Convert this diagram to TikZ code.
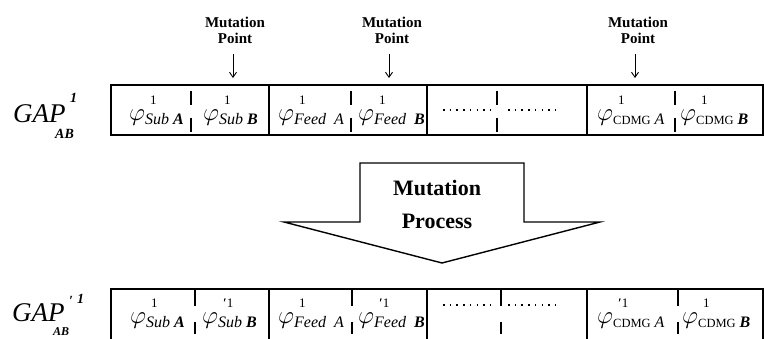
\documentclass[tikz,border=0pt]{standalone}
\usepackage{fontspec}
\setmainfont{Liberation Serif}
\usetikzlibrary{arrows.meta}

% one gene symbol: phi with a superscript stacked over its subscript
\newcommand{\phifont}{\fontsize{28}{28}\selectfont}
\newcommand{\supfont}{\fontsize{13}{13}\selectfont}
\newcommand{\subfont}{\itshape\fontsize{16}{16}\selectfont}
\newcommand{\gene}[2]{{\phifont$\varphi$}\makebox[0pt][l]{\hspace{5pt}\raisebox{16pt}{\supfont #1}}\raisebox{-4pt}{\subfont #2}}
\newcommand{\cdmg}{{\upshape\fontsize{12.5}{12.5}\selectfont CDMG}}
\newcommand{\pr}{{\bfseries ′}}

\begin{document}
\begin{tikzpicture}[x=1pt,y=-1pt,
  rowbox/.style={draw, line width=1.8pt},
  divider/.style={line width=1.6pt},
  cell/.style={inner sep=0pt, anchor=base west},
  mlabel/.style={inner sep=0pt, align=center, font=\bfseries\fontsize{15}{16}\selectfont},
  plabel/.style={inner sep=0pt, align=center, font=\bfseries\fontsize{22}{33}\selectfont},
  dotrow/.style={line width=1.5pt, dash pattern=on 1.5pt off 5.2pt},
  gapname/.style={inner sep=0pt, anchor=base west, font=\itshape\fontsize{27}{27}\selectfont},
  gapidx/.style={inner sep=0pt, anchor=base west, font=\bfseries\itshape\fontsize{14}{14}\selectfont},
  mpoint/.style={line width=0.9pt, -{Straight Barb[length=5pt,width=7pt]}}]
\useasboundingbox (0,0) rectangle (764,339);
\clip (0,0) rectangle (764,339);

% ---------- chromosome before mutation ----------
\node[gapname] (g1) at (13,123) {GAP};
\node[gapidx] (g1sup) at (70,103) {1};
\node[gapidx] (g1sub) at (55,139) {AB};

\draw[rowbox] (111,85) rectangle (763,135);
\foreach \x in {269,427,587} \draw[divider] (\x,85) -- (\x,135);
\foreach \x in {191,351,497,675} {
  \draw[divider] (\x,91) -- (\x,105);
  \draw[divider] (\x,118) -- (\x,132);
}
\node[cell] (a1) at (129,121) {\gene{1}{Sub \textbf{A}}};
\node[cell] (a2) at (203,121) {\gene{1}{Sub \textbf{B}}};
\node[cell] (a3) at (278,121) {\gene{1}{Feed\ \ A}};
\node[cell] (a4) at (358,121) {\gene{1}{Feed\ \ \textbf{B}}};
\draw[dotrow] (443,110) -- (492,110);
\draw[dotrow] (508,110) -- (558,110);
\node[cell] (a5) at (597,121) {\gene{1}{\cdmg\ A}};
\node[cell] (a6) at (680,121) {\gene{1}{\cdmg\ \textbf{B}}};

% mutation points
\node[mlabel] (mp1) at (235,30) {Mutation\\Point};
\node[mlabel] (mp2) at (392,30) {Mutation\\Point};
\node[mlabel] (mp3) at (638,30) {Mutation\\Point};
\coordinate (t1) at (233,78);
\coordinate (t2) at (389,78);
\coordinate (t3) at (635,78);
\draw[mpoint] (t1 |- 0,54) -- (t1);
\draw[mpoint] (t2 |- 0,54) -- (t2);
\draw[mpoint] (t3 |- 0,54) -- (t3);

% ---------- mutation process arrow ----------
\draw[line width=1.4pt, line join=miter]
  (360,163) -- (524,163) -- (524,222) -- (600,222) -- (442,263)
  -- (284,222) -- (360,222) -- cycle;
\node[plabel] (proc) at (437,204) {Mutation\\Process};

% ---------- chromosome after mutation ----------
\node[gapname] (g2) at (12,322) {GAP};
\node[gapidx] (g2pr) at (69,306) {\pr};
\node[gapidx] (g2sup) at (77,304) {1};
\node[gapidx, font=\bfseries\itshape\fontsize{12}{12}\selectfont] (g2sub) at (53,336) {AB};

\draw[rowbox] (111,289) rectangle (763,341);
\foreach \x in {269,427,587} \draw[divider] (\x,289) -- (\x,341);
\foreach \x in {195,352,501,678} {
  \draw[divider] (\x,289) -- (\x,306);
  \draw[divider] (\x,322) -- (\x,334);
}
\node[cell] (b1) at (130,324) {\gene{1}{Sub \textbf{A}}};
\node[cell] (b2) at (202,324) {\gene{\pr1}{Sub \textbf{B}}};
\node[cell] (b3) at (278,324) {\gene{1}{Feed\ \ A}};
\node[cell] (b4) at (358,324) {\gene{\pr1}{Feed\ \ \textbf{B}}};
\draw[dotrow] (443,305) -- (492,305);
\draw[dotrow] (508,305) -- (558,305);
\node[cell] (b5) at (597,324) {\gene{\pr1}{\cdmg\ A}};
\node[cell] (b6) at (682,324) {\gene{1}{\cdmg\ \textbf{B}}};
\end{tikzpicture}
\end{document}
